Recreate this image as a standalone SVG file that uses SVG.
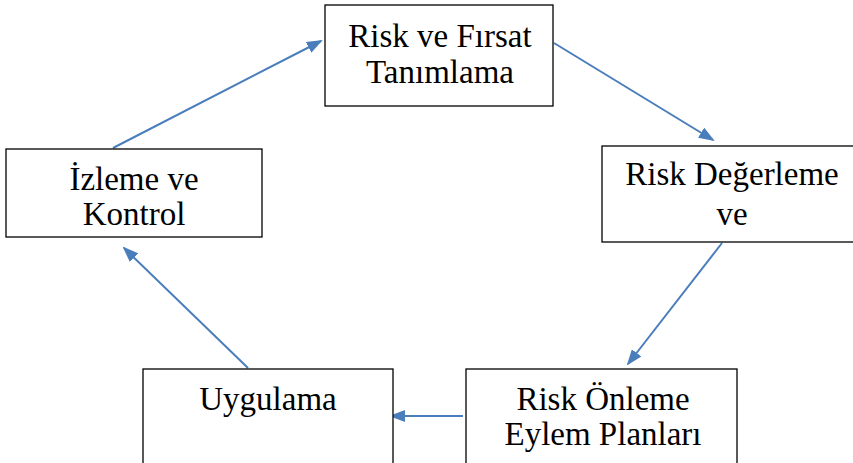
<svg xmlns="http://www.w3.org/2000/svg" width="853" height="463" viewBox="0 0 853 463">
<style>
.box{fill:#fff;stroke:#000;stroke-width:1.3}
.t{font-family:"Liberation Serif","Times New Roman",serif;font-size:33px;fill:#000;text-anchor:middle}
.c{stroke:#4a7ebb;stroke-width:2;fill:none;marker-end:url(#ah)}
</style>
<defs>
<marker id="ah" markerWidth="8" markerHeight="6" refX="7" refY="3" orient="auto" markerUnits="strokeWidth">
<path d="M0,0 L8,3 L0,6 Z" fill="#4a7ebb"/>
</marker>
</defs>
<rect width="853" height="463" fill="#fff"/>
<g id="connectors">
<line class="c" x1="554" y1="43" x2="713" y2="140"/>
<line class="c" x1="722" y1="243" x2="628" y2="364"/>
<line class="c" x1="463" y1="416" x2="391" y2="416"/>
<line class="c" x1="248" y1="368" x2="124" y2="248"/>
<line class="c" x1="113" y1="148" x2="321" y2="41"/>
</g>
<g id="n1">
<rect class="box" x="325" y="5" width="228" height="101"/>
<text class="t" x="440" y="47">Risk ve Fırsat</text>
<text class="t" x="440" y="83">Tanımlama</text>
</g>
<g id="n2">
<rect class="box" x="602" y="146" width="252" height="96"/>
<text class="t" x="732" y="185">Risk Değerleme</text>
<text class="t" x="732" y="225">ve</text>
</g>
<g id="n3">
<rect class="box" x="466" y="369" width="271" height="100"/>
<text class="t" x="603" y="410">Risk Önleme</text>
<text class="t" x="603" y="445">Eylem Planları</text>
</g>
<g id="n4">
<rect class="box" x="143" y="369" width="250" height="100"/>
<text class="t" x="268" y="410">Uygulama</text>
</g>
<g id="n5">
<rect class="box" x="6" y="149" width="256" height="88"/>
<text class="t" x="134" y="190">İzleme ve</text>
<text class="t" x="134" y="225">Kontrol</text>
</g>
</svg>
